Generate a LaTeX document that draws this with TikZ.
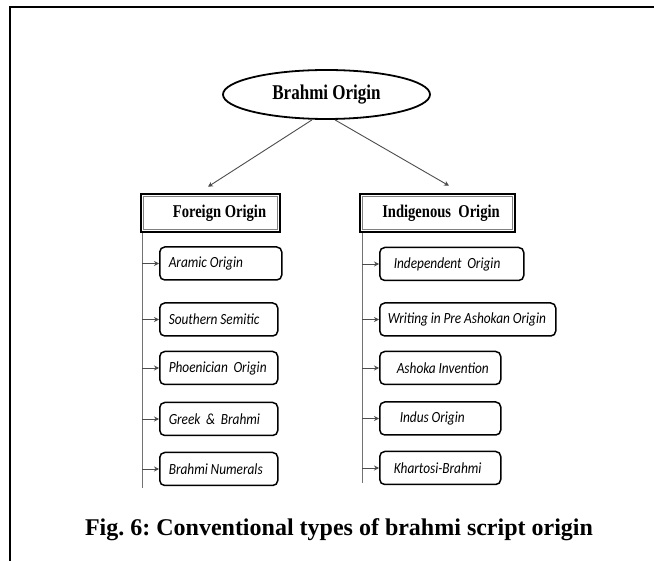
\documentclass[tikz,border=0pt]{standalone}
\usepackage{fontspec}
\newfontfamily\kidfont[FakeStretch=0.86]{Carlito}
\newfontfamily\headfont[FakeStretch=0.81]{Liberation Serif}
\newfontfamily\capfont{Liberation Serif}
\usetikzlibrary{arrows.meta,shapes.geometric,positioning}
\tikzset{
  kid/.style={draw, rounded corners=5pt, line width=1.5pt, minimum height=33pt,
    inner xsep=0pt, anchor=west, align=left, text=black,
    font=\kidfont\itshape\fontsize{15.5}{17}\selectfont,
    execute at begin node={\spaceskip=2.8pt plus 0.5pt\relax}},
  head/.style={draw, line width=2.5pt, minimum height=38pt, inner sep=0pt,
    font=\headfont\bfseries\fontsize{18}{20}\selectfont},
  link/.style={draw=black!70, line width=0.9pt, -{Stealth[length=5pt,width=5pt]}},
  trunk/.style={draw=black!55, line width=1pt}
}

\begin{document}
\frenchspacing
\begin{tikzpicture}[x=1pt,y=-1pt]
  \useasboundingbox (0,0) rectangle (654,561);
  \draw[line width=2.6pt] (9,7)--(654,7);
  \draw[line width=1.6pt] (10,7)--(10,561);
  \node[ellipse, draw, line width=1.8pt, minimum width=207pt, minimum height=49pt,
    inner sep=0pt, font=\headfont\bfseries\fontsize{21}{23}\selectfont]
    (brahmi) at (326.5,94.5) {Brahmi Origin};
  \node[head, minimum width=139pt] (foreign) at (210.5,213) {\hspace*{18pt}Foreign Origin};
  \node[head, minimum width=155pt] (indig) at (437.5,213) {\hspace*{7pt}Indigenous\ \ Origin};
  \draw[black!50, line width=0.7pt] ([shift={(3.5,3.5)}]foreign.north west)
    rectangle ([shift={(-3.5,-3.5)}]foreign.south east);
  \draw[black!50, line width=0.7pt] ([shift={(3.5,3.5)}]indig.north west)
    rectangle ([shift={(-3.5,-3.5)}]indig.south east);
  \draw[link] ([xshift=-14.5pt]brahmi.south) -- ([xshift=-2.5pt,yshift=6pt]foreign.north);
  \draw[link] ([xshift=8.5pt]brahmi.south) -- ([xshift=11.5pt,yshift=7pt]indig.north);

  \coordinate (fend) at (142,488);
  \coordinate (iend) at (362,483);
  \draw[trunk] (fend |- foreign.south) -- (fend);
  \draw[trunk] (iend |- indig.south) -- (iend);

  \node[kid, text width=122pt] (aramic) at (159,263.5) {\hspace*{9pt}Aramic Origin};
  \node[kid, text width=118pt] (semitic) at (159,319.5) {\hspace*{9pt}Southern Semitic};
  \node[kid, text width=118pt] (phoenic) at (159,368) {\hspace*{9pt}Phoenician\ \ Origin};
  \node[kid, text width=118pt] (greek) at (159,419) {\hspace*{9pt}Greek\ \ \&\ \ Brahmi};
  \node[kid, text width=118pt] (numerals) at (159,469) {\hspace*{9pt}Brahmi Numerals};

  \node[kid, text width=144pt] (indep) at (379,264) {\hspace*{14pt}Independent\ \ Origin};
  \node[kid, text width=176pt] (preashok) at (379,319.5) {\hspace*{8pt}Writing in Pre Ashokan Origin};
  \node[kid, text width=121pt] (ashoka) at (379,368) {\hspace*{17pt}Ashoka Invention};
  \node[kid, text width=121pt] (indus) at (379,418.5) {\hspace*{20pt}Indus Origin};
  \node[kid, text width=121pt] (kharosi) at (379,468) {\hspace*{14pt}Khartosi-Brahmi};

  \draw[link] (fend |- aramic) -- (aramic.west);
  \draw[link] (fend |- semitic) -- (semitic.west);
  \draw[link] (fend |- phoenic) -- (phoenic.west);
  \draw[link] (fend |- greek) -- (greek.west);
  \draw[link] (fend |- numerals) -- (numerals.west);
  \draw[link] (iend |- indep) -- (indep.west);
  \draw[link] (iend |- preashok) -- (preashok.west);
  \draw[link] (iend |- ashoka) -- (ashoka.west);
  \draw[link] (iend |- indus) -- (indus.west);
  \draw[link] (iend |- kharosi) -- (kharosi.west);

  \node[anchor=base, font=\capfont\bfseries\fontsize{24}{28}\selectfont]
    (caption) at (339,536) {Fig. 6: Conventional types of brahmi script origin};
\end{tikzpicture}
\end{document}
